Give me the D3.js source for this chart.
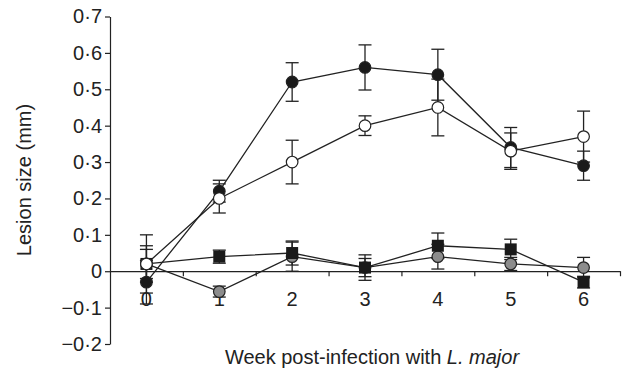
<!DOCTYPE html>
<html>
  <head>
    <title>Lesion size</title>
    <style>
      body { margin: 0; background: #fff; }
      text { font-family: "Liberation Sans", Arial, sans-serif; fill: #222; }
    </style>
  </head>
  <body>
    <script src="https://d3js.org/d3.v7.min.js"></script>
    <script>

var width = 624,
    height = 372;

// weeks post-infection
var weeks = [0, 1, 2, 3, 4, 5, 6];

// four groups (mean and error)
var blackVals = [-0.03, 0.22, 0.52, 0.56, 0.54, 0.34, 0.29];
var blackErr  = [0.06, 0.03, 0.053, 0.062, 0.07, 0.055, 0.04];

var openVals = [0.02, 0.20, 0.30, 0.40, 0.45, 0.33, 0.37];
var openErr  = [0.08, 0.04, 0.06, 0.027, 0.078, 0.05, 0.07];

var squareVals = [0.02, 0.04, 0.05, 0.01, 0.07, 0.06, -0.03];
var squareErr  = [0.05, 0.018, 0.033, 0.035, 0.035, 0.028, 0.016];

var greyVals = [0.02, -0.056, 0.04, 0.01, 0.04, 0.02, 0.01];
var greyErr  = [0.04, 0.015, 0.04, 0.025, 0.034, 0.018, 0.028];

var yTicks = [-0.2, -0.1, 0, 0.1, 0.2, 0.3, 0.4, 0.5, 0.6, 0.7];
var xMinorTicks = [0.5, 1.5, 2.5, 3.5, 4.5, 5.5, 6.5];

var series = [
  { name: 'grey',   shape: 'circle', fill: '#8c8c8c', vals: greyVals,   err: greyErr },
  { name: 'square', shape: 'square', fill: '#1a1a1a', vals: squareVals, err: squareErr },
  { name: 'black',  shape: 'circle', fill: '#1a1a1a', vals: blackVals,  err: blackErr },
  { name: 'open',   shape: 'circle', fill: '#ffffff', vals: openVals,   err: openErr }
];

var x = d3.scaleLinear().domain([-0.5, 6.5]).range([110, 620]);
var y = d3.scaleLinear().domain([-0.2, 0.7]).range([344, 16.5]);

var ink = '#222';
var fontSize = '20px';

var svg = d3.select('body').append('svg')
    .attr('width', width)
    .attr('height', height);

// format like the journal: middle dot and proper minus
function fmt(v) {
  if (Math.abs(v) < 1e-9) return '0';
  var s = d3.format('.1f')(Math.abs(v)).replace('.', '\u00b7');
  return (v < 0 ? '\u2212' : '') + s;
}

// y axis
var yAxis = svg.append('g')
    .attr('transform', 'translate(' + x(-0.5) + ',0)')
    .call(d3.axisLeft(y)
      .tickValues(yTicks)
      .tickSize(5)
      .tickSizeOuter(0)
      .tickPadding(3)
      .tickFormat(fmt));
yAxis.select('.domain').attr('stroke', ink).attr('stroke-width', 1.2);
yAxis.selectAll('.tick line').attr('stroke', ink).attr('stroke-width', 1.2);
yAxis.selectAll('.tick text')
    .style('font-family', '"Liberation Sans", Arial, sans-serif')
    .style('font-size', fontSize)
    .attr('fill', ink);

// x axis sits on zero, ticks between weeks
var xAxis = svg.append('g')
    .attr('transform', 'translate(0,' + y(0) + ')')
    .call(d3.axisBottom(x)
      .tickValues(xMinorTicks)
      .tickSize(5)
      .tickSizeOuter(0)
      .tickFormat(''));
xAxis.select('.domain').attr('stroke', ink).attr('stroke-width', 1.2);
xAxis.selectAll('.tick line').attr('stroke', ink).attr('stroke-width', 1.2);

svg.selectAll('.week-label')
  .data(weeks)
  .enter().append('text')
    .attr('class', 'week-label')
    .attr('x', function (d) { return x(d); })
    .attr('y', y(0) + 35)
    .attr('text-anchor', 'middle')
    .style('font-size', fontSize)
    .text(function (d) { return d; });

// lines and error bars first
var line = d3.line()
    .x(function (d) { return x(d.w); })
    .y(function (d) { return y(d.v); });

var capW = 6.5;

series.forEach(function (s) {
  var pts = weeks.map(function (w, i) { return { w: w, v: s.vals[i], e: s.err[i] }; });
  s.pts = pts;

  var eb = svg.append('g').attr('class', 'err-' + s.name)
      .attr('stroke', ink).attr('stroke-width', 1.3).attr('fill', 'none');
  pts.forEach(function (p) {
    var cx = x(p.w);
    eb.append('line').attr('x1', cx).attr('x2', cx).attr('y1', y(p.v - p.e)).attr('y2', y(p.v + p.e));
    eb.append('line').attr('x1', cx - capW).attr('x2', cx + capW).attr('y1', y(p.v + p.e)).attr('y2', y(p.v + p.e));
    eb.append('line').attr('x1', cx - capW).attr('x2', cx + capW).attr('y1', y(p.v - p.e)).attr('y2', y(p.v - p.e));
  });

  svg.append('path')
      .datum(pts)
      .attr('d', line)
      .attr('fill', 'none')
      .attr('stroke', ink)
      .attr('stroke-width', 1.3);
});

// markers on top
series.forEach(function (s) {
  var g = svg.append('g').attr('class', 'marks-' + s.name);
  if (s.shape === 'square') {
    g.selectAll('rect')
      .data(s.pts)
      .enter().append('rect')
        .attr('x', function (d) { return x(d.w) - 6; })
        .attr('y', function (d) { return y(d.v) - 6; })
        .attr('width', 12)
        .attr('height', 12)
        .attr('fill', s.fill);
  } else {
    g.selectAll('circle')
      .data(s.pts)
      .enter().append('circle')
        .attr('cx', function (d) { return x(d.w); })
        .attr('cy', function (d) { return y(d.v); })
        .attr('r', 5.8)
        .attr('fill', s.fill)
        .attr('stroke', ink)
        .attr('stroke-width', 1.2);
  }
});

// axis titles
svg.append('text')
    .attr('transform', 'translate(31,180) rotate(-90)')
    .attr('text-anchor', 'middle')
    .style('font-size', fontSize)
    .text('Lesion size (mm)');

var xt = svg.append('text')
    .attr('x', 372)
    .attr('y', 364)
    .attr('text-anchor', 'middle')
    .style('font-size', fontSize);
xt.append('tspan').text('Week post-infection with ');
xt.append('tspan').style('font-style', 'italic').text('L. major');

    </script>
  </body>
</html>
